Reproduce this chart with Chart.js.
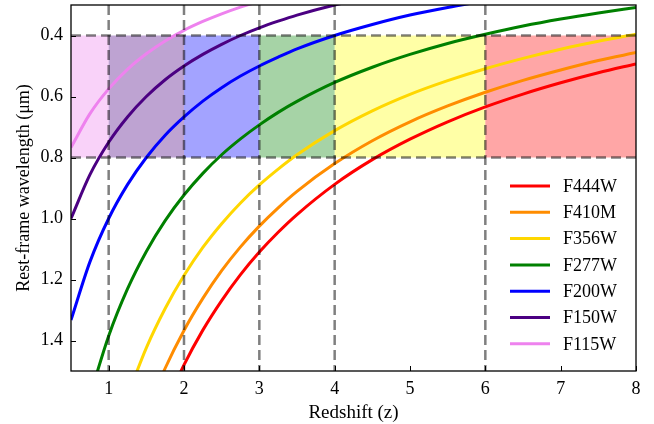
<!DOCTYPE html>
<html>
<head>
<meta charset="utf-8">
<script src="https://cdn.jsdelivr.net/npm/chart.js@4/dist/chart.umd.min.js"></script>
<style>
  body { margin: 0; background: #fff; }
  #wrap { width: 654px; height: 424px; }
</style>
</head>
<body>
<div id="wrap"><canvas id="zChart" width="654" height="424"></canvas></div>
<script>
// redshift samples and rest-frame wavelengths (um)
const redshifts = [0.5, 0.75, 1, 1.25, 1.5, 1.75, 2, 2.25, 2.5, 2.75, 3, 3.25, 3.5, 4, 4.5, 5, 5.5, 6, 6.5, 7, 7.5, 8];
const f444w = [null, null, null, null, null, 1.615, 1.48, 1.366, 1.269, 1.184, 1.11, 1.045, 0.987, 0.888, 0.807, 0.74, 0.683, 0.634, 0.592, 0.555, 0.522, 0.493];
const f410m = [null, null, null, null, 1.64, 1.491, 1.367, 1.262, 1.171, 1.093, 1.025, 0.965, 0.911, 0.82, 0.745, 0.683, 0.631, 0.586, 0.547, 0.513, 0.482, 0.456];
const f356w = [null, null, null, 1.582, 1.424, 1.295, 1.187, 1.095, 1.017, 0.949, 0.89, 0.838, 0.791, 0.712, 0.647, 0.593, 0.548, 0.509, 0.475, 0.445, 0.419, 0.396];
const f277w = [null, 1.583, 1.385, 1.231, 1.108, 1.007, 0.923, 0.852, 0.791, 0.739, 0.693, 0.652, 0.616, 0.554, 0.504, 0.462, 0.426, 0.396, 0.369, 0.346, 0.326, 0.308];
const f200w = [1.333, 1.143, 1.0, 0.889, 0.8, 0.727, 0.667, 0.615, 0.571, 0.533, 0.5, 0.471, 0.444, 0.4, 0.364, 0.333, 0.308, 0.286, null, null, null, null];
const f150w = [1.0, 0.857, 0.75, 0.667, 0.6, 0.545, 0.5, 0.462, 0.429, 0.4, 0.375, 0.353, 0.333, 0.3, 0.273, null, null, null, null, null, null, null];
const f115w = [0.767, 0.657, 0.575, 0.511, 0.46, 0.418, 0.383, 0.354, 0.329, 0.307, 0.288, null, null, null, null, null, null, null, null, null, null, null];

const filterNames = ['F444W', 'F410M', 'F356W', 'F277W', 'F200W', 'F150W', 'F115W'];
const filterValues = [f444w, f410m, f356w, f277w, f200w, f150w, f115w];
const filterColors = ['#ff0000', '#ff8c00', '#ffd700', '#008000', '#0000ff', '#4b0082', '#ee82ee'];

// shaded redshift bands between 0.4 and 0.8 um
const bandEdges = [0.5, 1, 2, 3, 4, 6, 8];
const bandColors = ['rgba(238,130,238,0.36)', 'rgba(75,0,130,0.36)', 'rgba(0,0,255,0.36)',
                    'rgba(0,128,0,0.35)', 'rgba(255,255,0,0.35)', 'rgba(255,0,0,0.35)'];
const bandWave = [0.4, 0.8];

// dashed guide lines
const guideZ = [1, 2, 3, 4, 6];
const guideWave = [0.4, 0.8];

const xTicks = [1, 2, 3, 4, 5, 6, 7, 8];
const yTicks = [0.4, 0.6, 0.8, 1.0, 1.2, 1.4];

const FONT = '"Liberation Serif", "Times New Roman", serif';

const datasets = filterNames.map((name, i) => ({
    label: name,
    data: redshifts.map((z, j) => ({ x: z, y: filterValues[i][j] })),
    borderColor: filterColors[i],
    backgroundColor: filterColors[i],
    borderWidth: 3,
    pointRadius: 0,
    cubicInterpolationMode: 'monotone',
    spanGaps: false,
    fill: false,
    clip: 0
}));

const decorPlugin = {
    id: 'decor',
    beforeDatasetsDraw(chart) {
        const { ctx, scales } = chart;
        const x = scales.x, y = scales.y;
        ctx.save();
        const yTop = y.getPixelForValue(bandWave[0]);
        const yBot = y.getPixelForValue(bandWave[1]);
        for (let i = 0; i < bandColors.length; i++) {
            const x0 = x.getPixelForValue(bandEdges[i]);
            const x1 = x.getPixelForValue(bandEdges[i + 1]);
            ctx.fillStyle = bandColors[i];
            ctx.fillRect(x0, yTop, x1 - x0, yBot - yTop);
        }
        ctx.restore();
    },
    afterDatasetsDraw(chart) {
        const { ctx, chartArea, scales } = chart;
        const x = scales.x, y = scales.y;
        ctx.save();
        ctx.beginPath();
        ctx.rect(chartArea.left, chartArea.top, chartArea.right - chartArea.left, chartArea.bottom - chartArea.top);
        ctx.clip();
        ctx.strokeStyle = 'rgba(0,0,0,0.5)';
        ctx.lineWidth = 2.5;
        ctx.setLineDash([10, 5]);
        guideWave.forEach(w => {
            const py = y.getPixelForValue(w);
            ctx.beginPath();
            ctx.moveTo(chartArea.left, py);
            ctx.lineTo(chartArea.right, py);
            ctx.stroke();
        });
        guideZ.forEach(z => {
            const px = x.getPixelForValue(z);
            ctx.beginPath();
            ctx.moveTo(px, chartArea.top);
            ctx.lineTo(px, chartArea.bottom);
            ctx.stroke();
        });
        ctx.restore();
    },
    afterDraw(chart) {
        const { ctx, chartArea, scales } = chart;
        const x = scales.x, y = scales.y;
        ctx.save();
        // frame
        ctx.strokeStyle = '#000';
        ctx.lineWidth = 1.3;
        ctx.strokeRect(chartArea.left, chartArea.top, chartArea.right - chartArea.left, chartArea.bottom - chartArea.top);
        // inward ticks
        ctx.lineWidth = 1;
        ctx.beginPath();
        xTicks.forEach(v => {
            const px = Math.round(x.getPixelForValue(v)) + 0.5;
            ctx.moveTo(px, chartArea.bottom);
            ctx.lineTo(px, chartArea.bottom - 5);
        });
        yTicks.forEach(v => {
            const py = Math.round(y.getPixelForValue(v)) + 0.5;
            ctx.moveTo(chartArea.left, py);
            ctx.lineTo(chartArea.left + 5, py);
        });
        ctx.stroke();
        // legend
        ctx.font = '18px ' + FONT;
        ctx.textBaseline = 'middle';
        ctx.textAlign = 'left';
        const lx = chartArea.right - 126;
        let ly = chartArea.bottom - 185;
        chart.data.datasets.forEach(ds => {
            ctx.strokeStyle = ds.borderColor;
            ctx.lineWidth = 3;
            ctx.beginPath();
            ctx.moveTo(lx, ly);
            ctx.lineTo(lx + 40, ly);
            ctx.stroke();
            ctx.fillStyle = '#000';
            ctx.fillText(ds.label, lx + 53, ly + 1);
            ly += 26.3;
        });
        ctx.restore();
    }
};

new Chart(document.getElementById('zChart').getContext('2d'), {
    type: 'line',
    data: { datasets: datasets },
    options: {
        responsive: false,
        animation: false,
        layout: { padding: { left: 0, top: 5, right: 18, bottom: 0 } },
        plugins: {
            legend: { display: false },
            tooltip: { enabled: false }
        },
        scales: {
            x: {
                type: 'linear',
                min: 0.5,
                max: 8,
                afterBuildTicks: s => { s.ticks = xTicks.map(v => ({ value: v })); },
                afterFit: s => { s.height = 53; s.paddingLeft = 0; s.paddingRight = 0; },
                grid: { display: false, drawTicks: false },
                border: { display: false },
                ticks: {
                    color: '#000',
                    padding: 7,
                    maxRotation: 0,
                    font: { family: FONT, size: 18 },
                    callback: v => String(v)
                },
                title: {
                    display: true,
                    text: 'Redshift (z)',
                    color: '#000',
                    font: { family: FONT, size: 19 },
                    padding: { top: 3, bottom: 0 }
                }
            },
            y: {
                type: 'linear',
                reverse: true,
                min: 0.3,
                max: 1.5,
                afterBuildTicks: s => { s.ticks = yTicks.map(v => ({ value: v })); },
                afterFit: s => { s.width = 71; s.paddingTop = 0; s.paddingBottom = 0; },
                grid: { display: false, drawTicks: false },
                border: { display: false },
                ticks: {
                    color: '#000',
                    padding: 8,
                    font: { family: FONT, size: 18 },
                    callback: v => Number(v).toFixed(1)
                },
                title: {
                    display: true,
                    text: 'Rest-frame wavelength (μm)',
                    color: '#000',
                    font: { family: FONT, size: 18 },
                    padding: { top: 13, bottom: 0 }
                }
            }
        }
    },
    plugins: [decorPlugin]
});
</script>
</body>
</html>
